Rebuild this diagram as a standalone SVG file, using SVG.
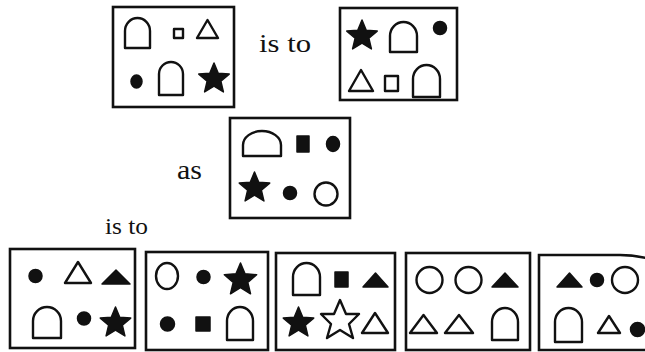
<svg xmlns="http://www.w3.org/2000/svg" width="645" height="352" viewBox="0 0 645 352">
<style>
.box{fill:none;stroke:#111;stroke-width:2.6}
.o{fill:none;stroke:#111;stroke-width:2.4;stroke-linejoin:round}
.f{fill:#111;stroke:#111;stroke-width:1.5;stroke-linejoin:round}
</style>
<rect width="645" height="352" fill="#fff"/>

<g id="box1">
<rect class="box" x="113" y="7" width="121" height="100"/>
<path class="o" d="M125,48 V31 A12.5,13 0 0 1 150,31 V48 Z"/>
<rect class="o" x="174" y="29" width="9" height="9"/>
<polygon class="o" points="197,38 207.5,20 218,38"/>
<ellipse class="f" cx="136.5" cy="81.5" rx="5.5" ry="6.5"/>
<path class="o" d="M159,95 V74 A12,12 0 0 1 183,74 V95 Z"/>
<polygon class="f" points="214,63 218.24,73.18 229.22,74.06 220.85,81.22 223.41,91.94 214,86.2 204.59,91.94 207.15,81.22 198.78,74.06 209.76,73.18"/>
</g>

<text x="259" y="52" font-family="'Liberation Serif','Times New Roman',serif" font-size="26" fill="#111" textLength="52" lengthAdjust="spacingAndGlyphs">is to</text>

<g id="box2">
<rect class="box" x="340" y="8" width="117" height="92"/>
<polygon class="f" points="362,20 366.24,30.18 377.22,31.06 368.85,38.22 371.41,48.94 362,43.2 352.59,48.94 355.15,38.22 346.78,31.06 357.76,30.18"/>
<path class="o" d="M390,52 V36 A13.5,14 0 0 1 417,36 V52 Z"/>
<circle class="f" cx="440" cy="28" r="6.5"/>
<polygon class="o" points="349,91 361,70 373,91"/>
<rect class="o" x="385" y="76" width="13" height="15"/>
<path class="o" d="M413,97 V79 A13.5,14 0 0 1 440,79 V97 Z"/>
</g>

<text x="177" y="179" font-family="'Liberation Serif','Times New Roman',serif" font-size="28" fill="#111" textLength="25" lengthAdjust="spacingAndGlyphs">as</text>

<g id="box3">
<rect class="box" x="230" y="118" width="120" height="100"/>
<path class="o" d="M243,156 V145 A19,14 0 0 1 281,145 V156 Z"/>
<rect class="f" x="297" y="136" width="12" height="16"/>
<ellipse class="f" cx="333" cy="144" rx="6.5" ry="7.5"/>
<polygon class="f" points="254.5,172 258.74,182.18 269.72,183.06 261.35,190.22 263.91,200.94 254.5,195.2 245.09,200.94 247.65,190.22 239.28,183.06 250.26,182.18"/>
<circle class="f" cx="290" cy="193" r="6.5"/>
<circle class="o" cx="326" cy="194" r="11.5"/>
</g>

<text x="105" y="234" font-family="'Liberation Serif','Times New Roman',serif" font-size="24" fill="#111" textLength="43" lengthAdjust="spacingAndGlyphs">is to</text>

<g id="optA">
<rect class="box" x="10" y="249" width="125" height="99"/>
<circle class="f" cx="35.5" cy="276" r="6.5"/>
<polygon class="o" points="65,283 78,262 91,283"/>
<polygon class="f" points="102,284 116,270 130,284"/>
<path class="o" d="M33,338 V321 A14,14 0 0 1 61,321 V338 Z"/>
<circle class="f" cx="84" cy="318.5" r="6.5"/>
<polygon class="f" points="115.5,307 119.74,317.18 130.72,318.06 122.35,325.22 124.91,335.94 115.5,330.2 106.09,335.94 108.65,325.22 100.28,318.06 111.26,317.18"/>
</g>

<g id="optB">
<rect class="box" x="146" y="252" width="122" height="98"/>
<ellipse class="o" cx="167" cy="276" rx="11" ry="13"/>
<circle class="f" cx="203.5" cy="277" r="6.5"/>
<polygon class="f" points="240.5,263 245,273.81 256.67,274.75 247.78,282.36 250.5,293.75 240.5,287.65 230.5,293.75 233.22,282.36 224.33,274.75 236,273.81"/>
<circle class="f" cx="167.5" cy="324" r="7"/>
<rect class="f" x="196" y="317" width="14" height="14"/>
<path class="o" d="M227,340 V321 A13,14 0 0 1 253,321 V340 Z"/>
</g>

<g id="optC">
<rect class="box" x="276" y="253" width="119" height="97"/>
<path class="o" d="M293,295 V277 A13.5,14 0 0 1 320,277 V295 Z"/>
<rect class="f" x="335" y="272" width="13" height="15"/>
<polygon class="f" points="363,287 375.5,273 388,287"/>
<polygon class="f" points="298.5,307 302.74,317.18 313.72,318.06 305.35,325.22 307.91,335.94 298.5,330.2 289.09,335.94 291.65,325.22 283.28,318.06 294.26,317.18"/>
<polygon class="o" points="340,300 346,314 359,314 349,324 353,338 340,330 327,338 331,324 321,314 334,314"/>
<polygon class="o" points="362,333 375,313 388,333"/>
</g>

<g id="optD">
<rect class="box" x="406" y="253" width="124" height="97"/>
<circle class="o" cx="429.5" cy="280" r="13"/>
<circle class="o" cx="468.5" cy="280" r="13"/>
<polygon class="f" points="492,287 505,273 518,287"/>
<polygon class="o" points="410,333 423.5,315 437,333"/>
<polygon class="o" points="445,333 459,315 473,333"/>
<path class="o" d="M492,340 V322 A13,14 0 0 1 518,322 V340 Z"/>
</g>

<g id="optE">
<path class="box" d="M650,350 H539 V255 H620 Q635,255 650,259"/>
<polygon class="f" points="557,287 569.5,273 582,287"/>
<circle class="f" cx="597" cy="280" r="6.5"/>
<circle class="o" cx="625" cy="280" r="13"/>
<path class="o" d="M555,342 V322 A13.5,14 0 0 1 582,322 V342 Z"/>
<polygon class="o" points="598,333 609,316 620,333"/>
<circle class="f" cx="637.5" cy="329.5" r="7"/>
</g>
</svg>
